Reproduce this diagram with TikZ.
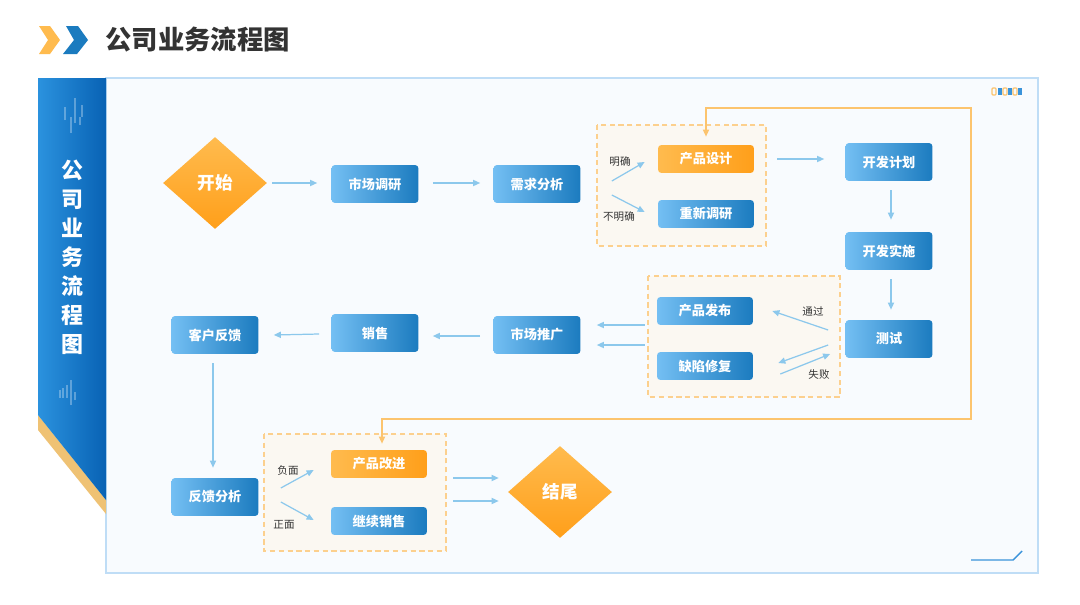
\documentclass[tikz,border=0pt]{standalone}
\usepackage{fontspec}
\setmainfont{Noto Sans CJK SC}
\usepackage{xcolor}
\usepackage{tikz}
\usetikzlibrary{positioning,calc,shapes.geometric,arrows.meta}

\definecolor{panel}{HTML}{F8FBFE}
\definecolor{panelline}{HTML}{BFDDF6}
\definecolor{boxL}{HTML}{74BFF3}
\definecolor{boxD}{HTML}{1B7BBF}
\definecolor{orgL}{HTML}{FFBB4E}
\definecolor{orgD}{HTML}{FF9F1A}
\definecolor{flow}{HTML}{8CC8EC}
\definecolor{grpline}{HTML}{FCD08E}
\definecolor{grpfill}{HTML}{FBF8F2}
\definecolor{loopc}{HTML}{FCC46E}
\definecolor{bannerL}{HTML}{2B92DE}
\definecolor{bannerD}{HTML}{0862B4}
\definecolor{gold}{HTML}{EFC274}
\definecolor{ink}{HTML}{333333}
\definecolor{deco}{HTML}{3A93DA}

\tikzset{
	box/.style={rectangle, rounded corners=2pt, minimum width=1.74cm, minimum height=0.76cm, inner sep=0pt, left color=boxL, right color=boxD, text=white, font=\fontsize{7.5}{9}\selectfont\bfseries},
	flat/.style={box, minimum width=1.92cm, minimum height=0.56cm},
	hot/.style={flat, left color=orgL, right color=orgD},
	dia/.style={diamond, minimum width=2.08cm, minimum height=1.84cm, inner sep=0pt, top color=orgL, bottom color=orgD, text=white, font=\fontsize{10}{12}\selectfont\bfseries},
	link/.style={draw=flow, line width=0.7pt, -{Triangle[length=4pt,width=3.5pt]}},
	back/.style={draw=loopc, line width=0.7pt, {Triangle[length=4pt,width=3.5pt]}-{Triangle[length=4pt,width=3.5pt]}},
	grp/.style={draw=grpline, fill=grpfill, line width=0.7pt, dash pattern=on 3pt off 2pt},
	tag/.style={text=ink, font=\fontsize{6}{7}\selectfont, inner sep=0pt},
}

\begin{document}
\begin{tikzpicture}[x=0.02cm, y=-0.02cm]
	\fill[white] (0,0) rectangle (1080,605);
	\fill[panel, draw=panelline, line width=0.7pt] (106,78) rectangle (1038,573);
	
	\fill[gold] (38,415) -- (106,500) -- (106,514) -- (38,430) -- cycle;
	\shade[left color=bannerL, right color=bannerD] (38,78) -- (106,78) -- (106,500) -- (38,415) -- cycle;
	\draw[white, opacity=.3, line width=.6pt] (65,107) -- (65,120) (71,117) -- (71,133) (75,98) -- (75,123) (80,117) -- (80,125) (82,105) -- (82,117);
	\draw[white, opacity=.3, line width=.6pt] (60,390) -- (60,398) (63,388) -- (63,398) (67,385) -- (67,398) (71,380) -- (71,405) (75,392) -- (75,400);
	\node[text=white, align=center, font=\fontsize{12.5}{16.5}\selectfont\bfseries] (ban) at (72,257) {公\\司\\业\\务\\流\\程\\图};
	
	\fill[orgL] (39,26) -- (50,26) -- (60,40) -- (50,54) -- (39,54) -- (48,40) -- cycle;
	\fill[boxD] (66,26) -- (78,26) -- (88,40) -- (77,54) -- (63,54) -- (74,40) -- cycle;
	\node[anchor=west, text=ink, font=\fontsize{15}{18}\selectfont\bfseries, inner sep=0pt] (title) at (105,40) {公司业务流程图};
	
	\foreach \px in {992,1003,1013} \draw[loopc, line width=.7pt, rounded corners=.5pt] (\px,88) rectangle ++(4,7);
	\foreach \px in {998,1008,1018} \fill[deco] (\px,88) rectangle ++(4,7);
	\draw[deco, line width=.8pt] (971,560) -- (1013,560) -- (1022,551);
	
	\draw[grp] (597,125) rectangle (766,246);
	\draw[grp] (648,276) rectangle (840,397);
	\draw[grp] (264,434) rectangle (446,551);
	
	\node[dia] (st) at (215,183) {开始};
	\node[box] (dy) at (375,184) {市场调研};
	\node[box] (xq) at (537,184) {需求分析};
	\node[hot] (sj) at (706,159) {产品设计};
	\node[flat] (cd) at (706,214) {重新调研};
	\node[box] (jh) at (889,162) {开发计划};
	\node[box] (ss) at (889,251) {开发实施};
	\node[box] (cs) at (889,339) {测试};
	\node[flat] (fb) at (705,311) {产品发布};
	\node[flat] (xf) at (705,366) {缺陷修复};
	\node[box] (tg) at (537,335) {市场推广};
	\node[box] (xs) at (375,333) {销售};
	\node[box] (kf) at (215,335) {客户反馈};
	\node[box] (fx) at (215,497) {反馈分析};
	\node[hot] (gj) at (379,464) {产品改进};
	\node[flat] (jx) at (379,521) {继续销售};
	\node[dia] (jw) at (560,492) {结尾};
	
	\node[tag] (mq) at (620,162) {明确};
	\node[tag] (bmq) at (619,217) {不明确};
	\node[tag] (tgl) at (813,311) {通过};
	\node[tag] (sb) at (819,374) {失败};
	\node[tag] (fm) at (288,470) {负面};
	\node[tag] (zm) at (284,525) {正面};
	
	\draw[link] ($(st.east)+(5,0)$) -- ($(dy.west)+(-14,-1)$);
	\draw[link] ($(dy.east)+(14,-1)$) -- ($(xq.west)+(-13,-1)$);
	\draw[link] ($(xq.east)+(31,-3)$) -- ($(sj.west)+(-13,3)$);
	\draw[link] ($(xq.east)+(31,11)$) -- ($(cd.west)+(-13,-2)$);
	\draw[link] ($(sj.east)+(23,0)$) -- ($(jh.west)+(-21,-3)$);
	\draw[link] ($(jh.south)+(2,9)$) -- ($(ss.north)+(2,-12)$);
	\draw[link] ($(ss.south)+(2,9)$) -- ($(cs.north)+(2,-10)$);
	\draw[link] ($(cs.west)+(-17,-9)$) -- ($(fb.east)+(19,0)$);
	\draw[link] ($(cs.west)+(-17,6)$) -- ($(xf.east)+(25,-3)$);
	\draw[link] ($(xf.east)+(27,8)$) -- ($(cs.west)+(-15,15)$);
	\draw[link] ($(fb.west)+(-12,14)$) -- ($(tg.east)+(16,-10)$);
	\draw[link] ($(xf.west)+(-12,-21)$) -- ($(tg.east)+(16,10)$);
	\draw[link] ($(tg.west)+(-13,1)$) -- ($(xs.east)+(14,3)$);
	\draw[link] ($(xs.west)+(-12,1)$) -- ($(kf.east)+(15,0)$);
	\draw[link] ($(kf.south)+(-2,9)$) -- ($(fx.north)+(-2,-10)$);
	\draw[link] ($(fx.east)+(22,-9)$) -- ($(gj.west)+(-17,6)$);
	\draw[link] ($(fx.east)+(22,5)$) -- ($(jx.west)+(-17,-1)$);
	\draw[link] ($(gj.east)+(26,14)$) -- ($(jw.west)+(-9,-14)$);
	\draw[link] ($(jx.east)+(26,-20)$) -- ($(jw.west)+(-9,9)$);
	
	\coordinate (c1) at (971,108);
	\coordinate (c2) at (971,419);
	\draw[back] ($(sj.north)+(0,-8)$) |- (c1) -- (c2) -| ($(gj.north)+(3,-6)$);
\end{tikzpicture}
\end{document}
